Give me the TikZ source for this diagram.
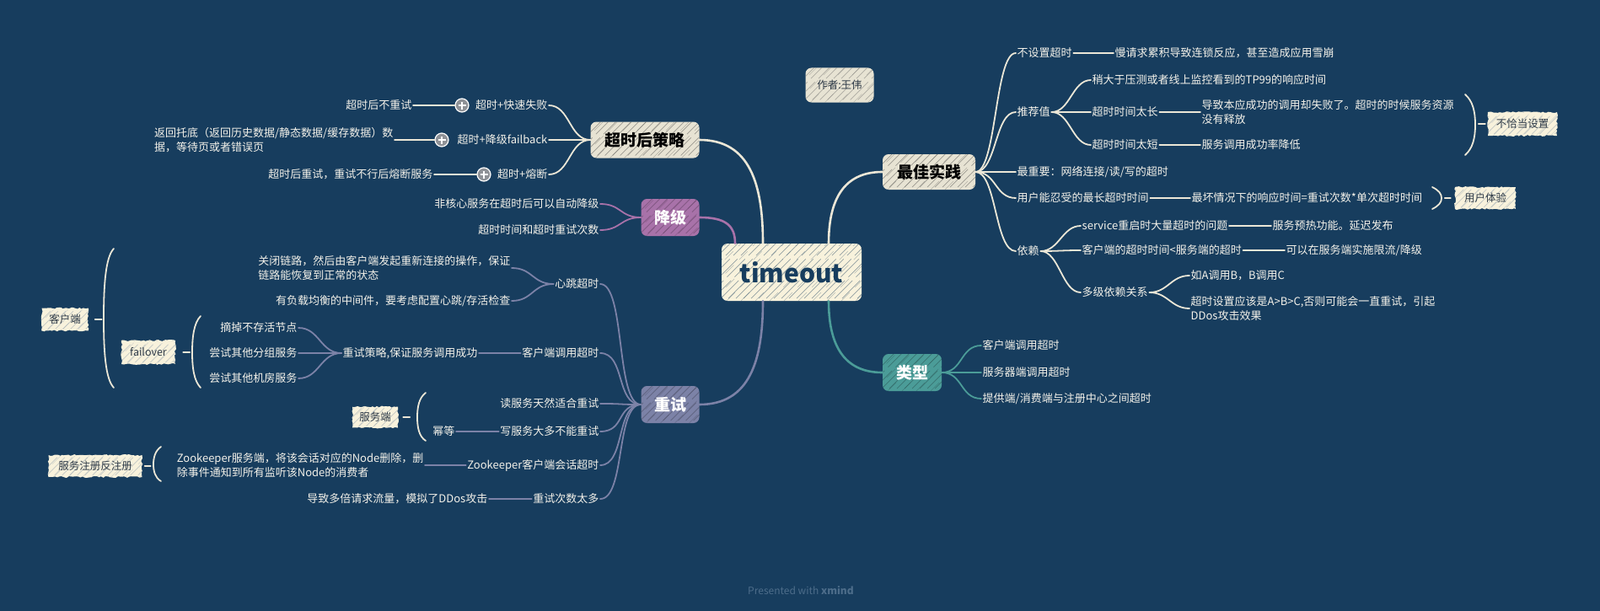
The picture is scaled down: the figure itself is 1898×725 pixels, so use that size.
\documentclass[tikz,border=0pt]{standalone}
\usepackage{fontspec}
\setmainfont{Noto Sans CJK SC}
\usetikzlibrary{decorations.pathmorphing,calc}
\definecolor{bg}{HTML}{173D5E}
\definecolor{cream}{HTML}{F8F2DC}
\definecolor{greycream}{HTML}{E7E3D3}
\definecolor{purp}{HTML}{A872A9}
\definecolor{slate}{HTML}{7C82A7}
\definecolor{tealc}{HTML}{4B9C98}
\definecolor{linecream}{HTML}{ECE7D7}
\definecolor{txt}{HTML}{F4F2EA}
\definecolor{navy}{HTML}{173D5E}
\definecolor{sumtxt}{HTML}{2F3B48}
\definecolor{wm}{HTML}{4D6D8A}
\definecolor{plusgrey}{HTML}{8F9297}
\tikzset{
  hatch/.style={path picture={
    \foreach \k in {-100,-91,...,200}
      \draw[#1, line width=0.7pt, opacity=0.45, dash pattern=on 30pt off 6pt] ([xshift=\k pt, yshift=3pt]path picture bounding box.south west) -- ++(100pt,100pt);
    \foreach \k in {-96,-79,...,200}
      \draw[#1, line width=0.5pt, opacity=0.3, dash pattern=on 14pt off 9pt] ([xshift=\k pt]path picture bounding box.south west) -- ++(100pt,100pt);
  }},
  mainbox/.style={rounded corners=7pt, inner sep=0pt, font=\fontsize{19}{22}\selectfont\bfseries},
  sumbox/.style={fill=cream, hatch=navy!55, inner sep=0pt, text=sumtxt, font=\fontsize{12.5}{15}\selectfont,
    decorate, decoration={random steps, segment length=2.5pt, amplitude=1pt}},
  t/.style={font=\fontsize{13}{16.5}\selectfont, text=txt, inner sep=1.5pt},
  tl/.style={t, anchor=east, align=left},
  tr/.style={t, anchor=west, align=left},
  conn/.style={draw=#1, line width=1.8pt, line cap=round},
  trunk/.style={draw=#1, line width=2.6pt, line cap=round},
  brk/.style={draw=linecream, line width=1.8pt, line cap=round},
  pluscirc/.style={circle, fill=plusgrey, draw=white, line width=1.2pt, minimum size=16pt, inner sep=0pt},
}
\begin{document}
\begin{tikzpicture}[x=1pt,y=-1pt]
\fill[bg] (0,0) rectangle (1898,725);
\useasboundingbox (0,0) rectangle (1898,725);

% ---------- main boxes ----------
\node[mainbox, fill=cream, hatch=navy, minimum width=166pt, minimum height=68pt, text=navy,
      font=\fontsize{30}{34}\selectfont\bfseries] (c) at (939,323) {timeout};
\node[mainbox, fill=greycream, hatch=black!75, minimum width=129pt, minimum height=43pt, text=black] (s) at (765,166) {超时后策略};
\node[mainbox, fill=purp, hatch=purp!45!black, minimum width=69pt, minimum height=44pt, text=white] (j) at (795,258) {降级};
\node[mainbox, fill=slate, hatch=slate!45!black, minimum width=69pt, minimum height=44pt, text=white] (r) at (795,480) {重试};
\node[mainbox, fill=greycream, hatch=black!75, minimum width=110pt, minimum height=42pt, text=black] (b) at (1102,204) {最佳实践};
\node[mainbox, fill=tealc, hatch=tealc!45!black, minimum width=70pt, minimum height=44pt, text=white] (ty) at (1082,442) {类型};
\node[rounded corners=7pt, fill=greycream, hatch=black!60, minimum width=81pt, minimum height=41pt, text=sumtxt,
      font=\fontsize{12.5}{15}\selectfont] (au) at (996,101) {作者:王伟};

% ---------- trunks ----------
\draw[trunk=linecream] (s.east) .. controls +(60,0) and +(0,-70) .. ([xshift=-34pt]c.north);
\draw[trunk=purp] (j.east) .. controls +(30,0) and +(0,-22) .. ([xshift=-67pt]c.north);
\draw[trunk=slate] (r.east) .. controls +(60,0) and +(0,70) .. ([xshift=-34pt]c.south);
\draw[trunk=linecream] ([xshift=44pt]c.north) .. controls +(0,-60) and +(-40,0) .. (b.west);
\draw[trunk=tealc] ([xshift=44pt]c.south) .. controls +(0,60) and +(-40,0) .. (ty.west);

% ---------- 超时后策略 ----------
\node[tl] (a1) at (651,125) {超时+快速失败};
\node[tl] (a2) at (651,166) {超时+降级failback};
\node[tl] (a3) at (651,207) {超时+熔断};
\foreach \n in {a1,a2,a3}
  \draw[conn=linecream] (s.west) .. controls +(-25,0) and +(25,0) .. (\n.east);
\node[pluscirc] (p1) at (548,125) {};
\node[pluscirc] (p2) at (524,166) {};
\node[pluscirc] (p3) at (574,207) {};
\foreach \p in {p1,p2,p3} {
  \draw[white, line width=1.3pt] ([xshift=-4.5pt]\p.center) -- ([xshift=4.5pt]\p.center);
  \draw[white, line width=1.3pt] ([yshift=-4.5pt]\p.center) -- ([yshift=4.5pt]\p.center);
}
\node[tl] (g1) at (490,125) {超时后不重试};
\node[tl] (g2) at (468,166) {返回托底（返回历史数据/静态数据/缓存数据）数\\据，等待页或者错误页};
\node[tl] (g3) at (515,207) {超时后重试，重试不行后熔断服务};
\draw[conn=linecream] (g1.east) -- (p1.west);
\draw[conn=linecream] (g2.east) -- (p2.west);
\draw[conn=linecream] (g3.east) -- (p3.west);

% ---------- 降级 ----------
\node[tl] (d1) at (712,242) {非核心服务在超时后可以自动降级};
\node[tl] (d2) at (712,273) {超时时间和超时重试次数};
\foreach \n in {d1,d2}
  \draw[conn=purp] (j.west) .. controls +(-25,0) and +(25,0) .. (\n.east);

% ---------- 重试 ----------
\node[tl] (r1) at (712,337) {心跳超时};
\node[tl] (r2) at (712,419) {客户端调用超时};
\node[tl] (r3) at (712,479) {读服务天然适合重试};
\node[tl] (r4) at (712,512) {写服务大多不能重试};
\node[tl] (r5) at (712,552) {Zookeeper客户端会话超时};
\node[tl] (r6) at (712,592) {重试次数太多};
\foreach \n in {r1,r2,r3,r4,r5,r6}
  \draw[conn=slate] (r.west) .. controls +(-30,0) and +(30,0) .. (\n.east);

\node[tl] (h1) at (607,318) {关闭链路，然后由客户端发起重新连接的操作，保证\\链路能恢复到正常的状态};
\node[tl] (h2) at (607,357) {有负载均衡的中间件，要考虑配置心跳/存活检查};
\foreach \n in {h1,h2}
  \draw[conn=slate] (r1.west) .. controls +(-25,0) and +(25,0) .. (\n.east);

\node[tl] (k) at (568,419) {重试策略,保证服务调用成功};
\draw[conn=slate] (r2.west) -- (k.east);
\node[tl] (f1) at (354,389) {摘掉不存活节点};
\node[tl] (f2) at (354,419) {尝试其他分组服务};
\node[tl] (f3) at (354,449) {尝试其他机房服务};
\foreach \n in {f1,f2,f3}
  \draw[conn=slate] (k.west) .. controls +(-25,0) and +(25,0) .. (\n.east);

\node[tl] (m) at (541,512) {幂等};
\draw[conn=slate] (r4.west) -- (m.east);
\node[tl] (z) at (504,552) {Zookeeper服务端，将该会话对应的Node删除，删\\除事件通知到所有监听该Node的消费者};
\draw[conn=slate] (r5.west) -- (z.east);
\node[tl] (x) at (580,592) {导致多倍请求流量，模拟了DDos攻击};
\draw[conn=slate] (r6.west) -- (x.east);

% ---------- summaries (left) ----------
\node[sumbox, minimum width=55pt, minimum height=27pt] (kh) at (77,379) {客户端};
\draw[brk] (135,295) .. controls (125,305) and (123,340) .. (123,378) .. controls (123,416) and (125,450) .. (135,460);
\draw[brk] ([xshift=8pt]kh.east) -- ++(8,0);

\node[sumbox, minimum width=64pt, minimum height=28pt] (fo) at (176,418) {failover};
\draw[brk] (238,375) .. controls (230,383) and (228,400) .. (228,418) .. controls (228,436) and (230,452) .. (238,460);
\draw[brk] ([xshift=9pt]fo.east) -- ++(8,0);

\node[sumbox, minimum width=54pt, minimum height=25pt] (fw) at (445,495) {服务端};
\draw[brk] (505,466) .. controls (497,472) and (495,483) .. (495,495) .. controls (495,507) and (497,518) .. (505,523);
\draw[brk] ([xshift=6pt]fw.east) -- ++(8,0);

\node[sumbox, minimum width=111pt, minimum height=26pt] (zc) at (113,553) {服务注册反注册};
\draw[brk] (191,530) .. controls (184,535) and (182,543) .. (182,551) .. controls (182,559) and (184,567) .. (191,571);
\draw[brk] ([xshift=3pt]zc.east) -- ++(7,0);

% ---------- 最佳实践 ----------
\node[tr] (b1) at (1205,63) {不设置超时};
\node[tr] (b2) at (1205,133) {推荐值};
\node[tr] (b3) at (1205,204) {最重要：网络连接/读/写的超时};
\node[tr] (b4) at (1205,235) {用户能忍受的最长超时时间};
\node[tr] (b5) at (1205,298) {依赖};
\foreach \n in {b1,b2,b3,b4,b5}
  \draw[conn=linecream] (b.east) .. controls +(25,0) and +(-25,0) .. (\n.west);

\node[tr] (s1) at (1321,63) {慢请求累积导致连锁反应，甚至造成应用雪崩};
\draw[conn=linecream] (b1.east) -- (s1.west);

\node[tr] (c1) at (1294,95) {稍大于压测或者线上监控看到的TP99的响应时间};
\node[tr] (c2) at (1294,133) {超时时间太长};
\node[tr] (c3) at (1294,172) {超时时间太短};
\foreach \n in {c1,c2,c3}
  \draw[conn=linecream] (b2.east) .. controls +(22,0) and +(-22,0) .. (\n.west);
\node[tr] (l1) at (1424,133) {导致本应成功的调用却失败了。超时的时候服务资源\\没有释放};
\node[tr] (l2) at (1424,172) {服务调用成功率降低};
\draw[conn=linecream] (c2.east) -- (l1.west);
\draw[conn=linecream] (c3.east) -- (l2.west);
\node[sumbox, minimum width=82pt, minimum height=28pt] (bq) at (1806,147) {不恰当设置};
\draw[brk] (1738,112) .. controls (1747,120) and (1750,132) .. (1750,148) .. controls (1750,164) and (1747,176) .. (1738,184);
\draw[brk] ([xshift=-11pt]bq.west) -- ++(8,0);

\node[tr] (w) at (1412,235) {最坏情况下的响应时间=重试次数*单次超时时间};
\draw[conn=linecream] (b4.east) -- (w.west);
\node[sumbox, minimum width=72pt, minimum height=26pt] (ux) at (1762,235) {用户体验};
\draw[brk] (1699,222) .. controls (1707,226) and (1710,230) .. (1710,235) .. controls (1710,240) and (1707,244) .. (1699,248);
\draw[brk] ([xshift=-12pt]ux.west) -- ++(7,0);

\node[tr] (e1) at (1282,268) {service重启时大量超时的问题};
\node[tr] (e2) at (1282,297) {客户端的超时时间<服务端的超时};
\node[tr] (e3) at (1282,347) {多级依赖关系};
\foreach \n in {e1,e2,e3}
  \draw[conn=linecream] (b5.east) .. controls +(22,0) and +(-22,0) .. (\n.west);
\node[tr] (e1a) at (1508,268) {服务预热功能。延迟发布};
\node[tr] (e2a) at (1524,297) {可以在服务端实施限流/降级};
\draw[conn=linecream] (e1.east) -- (e1a.west);
\draw[conn=linecream] (e2.east) -- (e2a.west);
\node[tr] (q1) at (1411,327) {如A调用B，B调用C};
\node[tr] (q2) at (1411,366) {超时设置应该是A>B>C,否则可能会一直重试，引起\\DDos攻击效果};
\foreach \n in {q1,q2}
  \draw[conn=linecream] (e3.east) .. controls +(22,0) and +(-22,0) .. (\n.west);

% ---------- 类型 ----------
\node[tr] (t1) at (1164,410) {客户端调用超时};
\node[tr] (t2) at (1164,442) {服务器端调用超时};
\node[tr] (t3) at (1164,473) {提供端/消费端与注册中心之间超时};
\foreach \n in {t1,t2,t3}
  \draw[conn=tealc] (ty.east) .. controls +(25,0) and +(-25,0) .. (\n.west);

% ---------- watermark ----------
\node[font=\fontsize{12}{14}\selectfont, text=wm] (wmk) at (950,701) {Presented with \textbf{xmind}};
\end{tikzpicture}
\end{document}
